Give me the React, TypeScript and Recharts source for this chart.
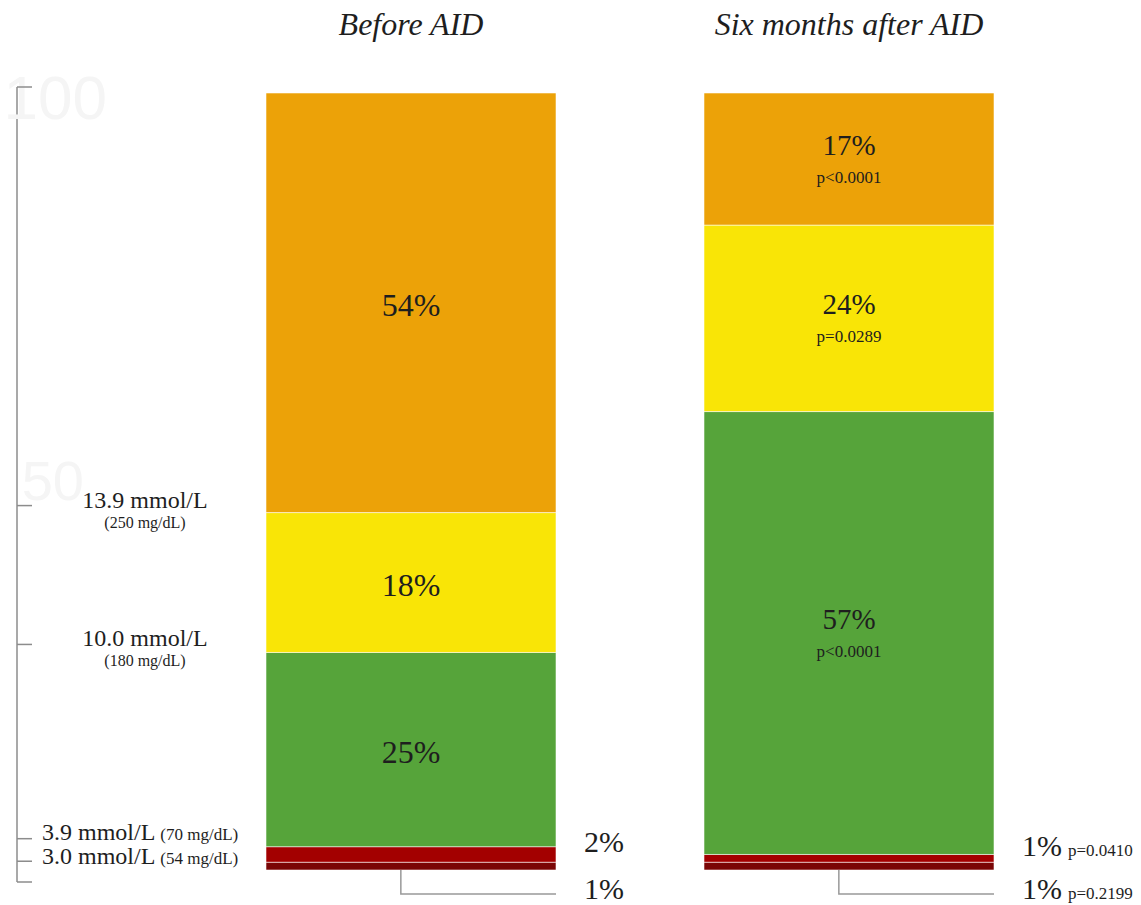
import React from 'react';
import { BarChart, Bar, XAxis, YAxis, LabelList } from 'recharts';

// time in glucose ranges, % of day
const periods = ['Before AID', 'Six months after AID'];
const veryHigh = [54, 17];
const high = [18, 24];
const inRange = [25, 57];
const low = [2, 1];
const veryLow = [1, 1];

const pVeryHigh = ['', 'p<0.0001'];
const pHigh = ['', 'p=0.0289'];
const pInRange = ['', 'p<0.0001'];
const pLow = ['', 'p=0.0410'];
const pVeryLow = ['', 'p=0.2199'];

// range thresholds, placed at the cumulative share of the first bar
const thresholdTicks = [46, 28, 3, 1];
const thresholdMmol = ['13.9 mmol/L', '10.0 mmol/L', '3.9 mmol/L', '3.0 mmol/L'];
const thresholdMgdl = ['(250 mg/dL)', '(180 mg/dL)', '(70 mg/dL)', '(54 mg/dL)'];
// faded scale numbers first so they sit underneath the threshold labels
const axisTicks = [100, 50, 46, 28, 3, 1, 0];

const rows = periods.map((name, i) => ({
  name,
  veryLow: veryLow[i],
  low: low[i],
  inRange: inRange[i],
  high: high[i],
  veryHigh: veryHigh[i],
}));

const SERIF = '"Liberation Serif", "Times New Roman", serif';
const INK = '#1e1e1e';
const AXIS_X = 17;
const GREY = '#8c8c8c';
const GHOST = '#f5f5f5';

// small vertical nudges so the bracket ticks sit on the boundaries
const tickNudge: Record<number, number> = { 100: -6, 46: -7, 28: -8, 3: -8, 1: -1, 0: 12 };
const labelNudge: Record<number, number> = { 46: 2, 28: 2, 3: 1, 1: 3 };

const box = (props: any) => {
  const vb = props.viewBox ?? props;
  return {
    x: Number(vb.x ?? props.x),
    y: Number(vb.y ?? props.y),
    w: Number(vb.width ?? props.width),
    h: Number(vb.height ?? props.height),
  };
};

const TitleTick = (props: any) => (
  <text
    x={props.x}
    y={35}
    textAnchor="middle"
    fontFamily={SERIF}
    fontStyle="italic"
    fontSize={32}
    fill={INK}
  >
    {props.payload.value}
  </text>
);

const AxisTick = (props: any) => {
  const v = props.payload.value;
  const y = Number(props.y);
  if (v === 50) {
    return (
      <text x={84} y={y + 18} textAnchor="end" fontFamily="Arial, sans-serif" fontSize={56} fill={GHOST}>
        50
      </text>
    );
  }
  const ty = y + (tickNudge[v] ?? 0);
  const ly = ty + (labelNudge[v] ?? 0);
  const i = thresholdTicks.indexOf(v);
  return (
    <g>
      {v === 100 && (
        <>
          <text x={107} y={y + 26} textAnchor="end" fontFamily="Arial, sans-serif" fontSize={62} fill={GHOST}>
            100
          </text>
          <line x1={AXIS_X} x2={AXIS_X} y1={ty} y2={y} stroke={GREY} strokeWidth={1.5} />
        </>
      )}
      <line x1={AXIS_X} x2={AXIS_X + 15} y1={ty} y2={ty} stroke={GREY} strokeWidth={1.5} />
      {v === 0 && <line x1={AXIS_X} x2={AXIS_X} y1={y} y2={ty} stroke={GREY} strokeWidth={1.5} />}
      {i >= 0 && i < 2 && (
        <>
          <text x={145} y={ly} textAnchor="middle" fontFamily={SERIF} fontSize={24} fill={INK}>
            {thresholdMmol[i]}
          </text>
          <text x={145} y={ly + 20} textAnchor="middle" fontFamily={SERIF} fontSize={16} fill={INK}>
            {thresholdMgdl[i]}
          </text>
        </>
      )}
      {i >= 2 && (
        <text x={42} y={ly} fontFamily={SERIF} fontSize={24} fill={INK}>
          {thresholdMmol[i]}
          <tspan fontSize={17} dx={5}>
            {thresholdMgdl[i]}
          </tspan>
        </text>
      )}
    </g>
  );
};

// percentage (and p-value) inside a segment
const insideLabel = (pvals: string[]) => (props: any) => {
  const { x, y, w, h } = box(props);
  const cx = x + w / 2;
  const cy = y + h / 2;
  const p = pvals[props.index];
  if (!p) {
    return (
      <text x={cx} y={cy + 2} textAnchor="middle" dominantBaseline="central" fontFamily={SERIF} fontSize={32} fill={INK}>
        {props.value}%
      </text>
    );
  }
  return (
    <g>
      <text x={cx} y={cy - 14} textAnchor="middle" dominantBaseline="central" fontFamily={SERIF} fontSize={29} fill={INK}>
        {props.value}%
      </text>
      <text x={cx} y={cy + 18} textAnchor="middle" dominantBaseline="central" fontFamily={SERIF} fontSize={17} fill={INK}>
        {p}
      </text>
    </g>
  );
};

// percentage beside a thin segment
const sideLabel = (pvals: string[]) => (props: any) => {
  const { x, y, w, h } = box(props);
  const p = pvals[props.index];
  return (
    <text x={x + w + 28} y={y + h / 2 - 2} fontFamily={SERIF} fontSize={30} fill={INK}>
      {props.value}%
      {p && (
        <tspan fontSize={17} dx={6}>
          {p}
        </tspan>
      )}
    </text>
  );
};

// elbow connector from the bottom segment to its label
const calloutLabel = (pvals: string[]) => (props: any) => {
  const { x, y, w, h } = box(props);
  const bottom = y + h;
  const lx = x + w * 0.465;
  const ly = bottom + 24;
  const p = pvals[props.index];
  return (
    <g>
      <path d={`M${lx},${bottom} V${ly} H${x + w}`} fill="none" stroke="#999" strokeWidth={1.5} />
      <text x={x + w + 28} y={bottom + 29} fontFamily={SERIF} fontSize={30} fill={INK}>
        {props.value}%
        {p && (
          <tspan fontSize={17} dx={6}>
            {p}
          </tspan>
        )}
      </text>
    </g>
  );
};

const seg = { stackId: 'tir', isAnimationActive: false, stroke: 'rgba(255,255,255,0.55)', strokeWidth: 1 };

export default function App() {
  return (
    <div style={{ position: 'absolute', left: 0, top: 0, width: 1141, height: 905, background: '#fff' }}>
      <BarChart width={1141} height={905} data={rows} margin={{ top: 35, right: 73, bottom: 35, left: 0 }} barSize={290}>
        <XAxis
          dataKey="name"
          orientation="top"
          height={58}
          axisLine={false}
          tickLine={false}
          padding={{ left: 175, right: 0 }}
          interval={0}
          tick={TitleTick}
        />
        <YAxis
          type="number"
          domain={[0, 100]}
          ticks={axisTicks}
          interval={0}
          width={AXIS_X}
          axisLine={{ stroke: GREY, strokeWidth: 1.5 }}
          tickLine={false}
          tick={AxisTick}
        />
        <Bar dataKey="veryLow" fill="#7a0606" {...seg}>
          <LabelList dataKey="veryLow" content={calloutLabel(pVeryLow)} />
        </Bar>
        <Bar dataKey="low" fill="#a30000" {...seg}>
          <LabelList dataKey="low" content={sideLabel(pLow)} />
        </Bar>
        <Bar dataKey="inRange" fill="#56a43a" {...seg}>
          <LabelList dataKey="inRange" content={insideLabel(pInRange)} />
        </Bar>
        <Bar dataKey="high" fill="#f9e506" {...seg}>
          <LabelList dataKey="high" content={insideLabel(pHigh)} />
        </Bar>
        <Bar dataKey="veryHigh" fill="#eca208" {...seg}>
          <LabelList dataKey="veryHigh" content={insideLabel(pVeryHigh)} />
        </Bar>
      </BarChart>
    </div>
  );
}
